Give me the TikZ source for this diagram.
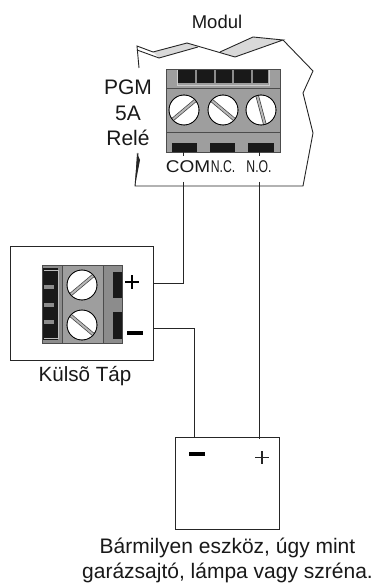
\documentclass[tikz,border=0pt]{standalone}
\usepackage{fontspec}
\setmainfont{Liberation Sans}
\tikzset{
 wire/.style={draw=black!85,line width=1pt},
 box/.style={draw=black!85,line width=.9pt,fill=white},
 lab/.style={inner sep=0pt,align=center,text=black!90},
 screwhead/.style={circle,draw=black,fill=white,line width=.6pt,minimum size=30pt,inner sep=0pt},
 gr/.style={fill=black!38,draw=black!70,line width=.6pt},
 grd/.style={fill=black!45,draw=black!70,line width=.6pt},
 tab/.style={fill=black!90},
 sign/.style={fill=black}
}
\newcommand{\screwslot}[2]{\draw[line width=3.4pt,black!75] ($(#1)+(#2:15pt)$) -- ($(#1)+(#2+180:15pt)$);\draw[line width=2pt,black!28] ($(#1)+(#2:14.5pt)$) -- ($(#1)+(#2+180:14.5pt)$);\draw[black,line width=.6pt] (#1) circle (15pt);}
\usetikzlibrary{calc}
\begin{document}
\begin{tikzpicture}[x=1pt,y=-1pt]
\useasboundingbox (0,0) rectangle (376,585);
\fill[white] (0,0) rectangle (376,585);
% module outline
\fill[black!15] (153,52) -- (187,43) -- (198,47) -- (159,58) -- cycle;
\fill[black!15] (220,52) -- (253,37) -- (283,40) -- (235,57) -- cycle;
\draw[line width=.9pt,black!85] (139,68) -- (137,46) -- (153,52) -- (187,43) -- (235,57) -- (283,40) -- (253,37) -- (220,52);
\draw[line width=.9pt,black!85] (137,50) -- (159,58) -- (198,47);
\draw[line width=.9pt,black!85] (283,40) -- (313,71) -- (303,93) -- (313,133) -- (303,186) -- (135,186) -- (138,153);
\fill[black!85] (137,153) -- (140,160) -- (135,186) -- cycle;
% module terminal
\draw[gr] (166,69) rectangle (280,152);
\draw[black!70,line width=.8pt] (166,88) -- (280,88);
\draw[black!70,line width=.8pt] (166,132) -- (280,132);
\draw[draw=black!20,line width=.8pt] (177,70) -- (177,85) -- (269,85) -- (269,70);
\fill[black!90] (178,70) rectangle (268,83);
\foreach \x in {196,215,233,252} \fill[black!45] (\x-1,70) rectangle (\x+1,83);
\node[screwhead] (s1) at (184,110) {};
\node[screwhead] (s2) at (223,110) {};
\node[screwhead] (s3) at (261,110) {};
\screwslot{s1}{40}
\screwslot{s2}{-40}
\screwslot{s3}{-75}
\node[tab,minimum width=25pt,minimum height=9pt,inner sep=0pt] (com) at (184.5,147.5) {};
\node[tab,minimum width=25pt,minimum height=9pt,inner sep=0pt] (nc) at (222.5,147.5) {};
\node[tab,minimum width=26pt,minimum height=9pt,inner sep=0pt] (no) at (261,147.5) {};
% Kulso box
\node[box,minimum width=143pt,minimum height=114pt,inner sep=0pt] (kulso) at (81.5,303) {};
\draw[grd] (42,265) rectangle (122,343);
\draw[gr] (62,265) rectangle (103,343);
\fill[black!90] (43,268) rectangle (58,340);
\foreach \y in {287,305,322} \fill[black!45] (44,\y-2) rectangle (54,\y+2);
\draw[black!25,line width=.8pt] (44,270) -- (58,270) -- (58,338) -- (44,338);
\node[screwhead] (s4) at (82,285) {};
\node[screwhead] (s5) at (82,325) {};
\screwslot{s4}{40}
\screwslot{s5}{-40}
\node[tab,minimum width=9pt,minimum height=26pt,inner sep=0pt] (plusT) at (117.5,285) {};
\node[tab,minimum width=9pt,minimum height=27pt,inner sep=0pt] (minusT) at (117.5,325) {};
\fill[sign] (127,331) rectangle (143,335);
\draw[line width=1.1pt,black] (125,282) -- (139,282) (132,275) -- (132,289);
% device
\node[box,minimum width=104pt,minimum height=92pt,inner sep=0pt] (dev) at (227,483) {};
\fill[sign] (189,452) rectangle (205,456);
\draw[line width=1.1pt,black!85] (255,457.5) -- (269,457.5) (262,451) -- (262,464);
% wires
\coordinate (kp) at (kulso.east |- 0,283);
\coordinate (km) at (kulso.east |- 0,328);
\coordinate (dm) at (194,437);
\coordinate (dp) at (259,439);
\draw[wire] (com.south -| 183,0) -- (183,156);
\draw[wire] (183,182) -- (183,283) -- (kp);
\draw[wire] (km) -- (194,328) -- (dm);
\draw[wire] (no.south -| 259,0) -- (259,156);
\draw[wire] (259,182) -- (dp);
% text
\node[lab,font=\fontsize{18.5}{22}\selectfont] (t1) at (217,22) {Modul};
\node[lab,font=\fontsize{21}{25.5}\selectfont] (t2) at (128,113) {PGM\\5A\\Relé};
\node[lab,font=\fontsize{20.6}{24}\selectfont] (t3) at (85,376) {Külsõ Táp};
\node[lab,font=\fontsize{21}{25}\selectfont] (t4) at (227.5,560) {Bármilyen eszköz, úgy mint\\garázsajtó, lámpa vagy szréna.};
\node[lab,font=\fontsize{17}{20}\selectfont,xscale=1.12] (t5) at (188,167) {COM};
\node[lab,font=\fontsize{17}{20}\selectfont,xscale=.72] (t6) at (223,167) {N.C.};
\node[lab,font=\fontsize{17}{20}\selectfont,xscale=.72] (t7) at (259,167) {N.O.};
\end{tikzpicture}
\end{document}
